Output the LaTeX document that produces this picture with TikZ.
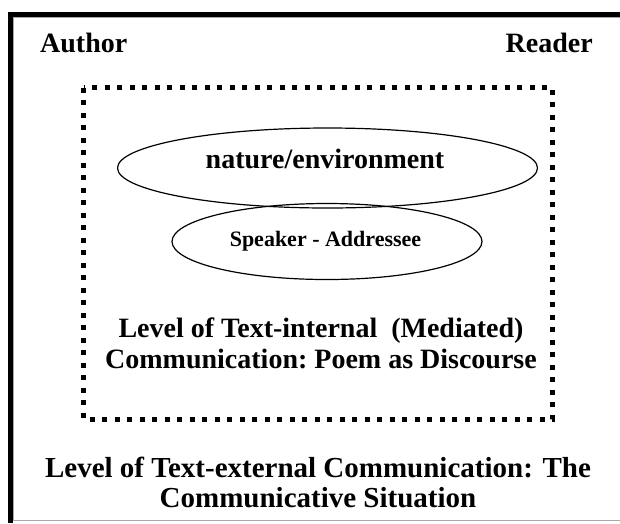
\documentclass[tikz,border=0pt]{standalone}
\usepackage{fontspec}
\setmainfont{Liberation Serif}
\usetikzlibrary{shapes.geometric}
\definecolor{edgegray}{HTML}{A8A8A8}
\tikzset{
  label text/.style={inner sep=0pt, font=\bfseries\fontsize{28}{31}\selectfont},
  wide text/.style={inner sep=0pt, font=\bfseries\fontsize{29}{30}\selectfont},
  small text/.style={inner sep=0pt, font=\bfseries\fontsize{22}{25}\selectfont},
  level box/.style={draw=black, line width=5pt, dash pattern=on 5pt off 7.5pt, line cap=butt},
  oval/.style={ellipse, draw=black, line width=1.2pt, inner sep=0pt},
}
\begin{document}
\begin{tikzpicture}[x=1pt, y=-1pt]
\useasboundingbox (0,0) rectangle (620,523);
% outer frame: heavy left and top edges, light inner and bottom edges
\fill[black] (8,12) rectangle (13,523);
\fill[black] (8,12) rectangle (620,17);
\draw[edgegray, line width=0.8pt] (13.4,17) -- (13.4,520.5) -- (620,520.5);
\draw[edgegray, line width=0.8pt] (13,17.4) -- (620,17.4);

% participants of the communicative situation
\node[label text, anchor=base west] (author) at (40,52) {Author};
\node[label text, anchor=base east] (reader) at (593,52) {Reader};

% text-internal level
\draw[level box] (83.5,87.5) rectangle (552.5,419);

\node[oval, minimum width=420pt, minimum height=80pt] (env) at (327.5,168) {};
\node[oval, minimum width=310pt, minimum height=76pt] (speaker) at (327,241.5) {};
\node[label text, anchor=base] (envtext) at (325,168) {nature/environment};
\node[small text, anchor=base] (speakertext) at (325.5,246) {Speaker - Addressee};

% the base anchor of a two-line node sits on its last line
\node[label text, align=center, anchor=base] (internal) at (321,368)
  {Level of Text-internal\ \ (Mediated)\\Communication:\ Poem as Discourse};

% text-external level
\node[wide text, align=center, anchor=base] (external) at (318,507)
  {Level of Text-external Communication: The\\Communicative Situation};
\end{tikzpicture}
\end{document}
